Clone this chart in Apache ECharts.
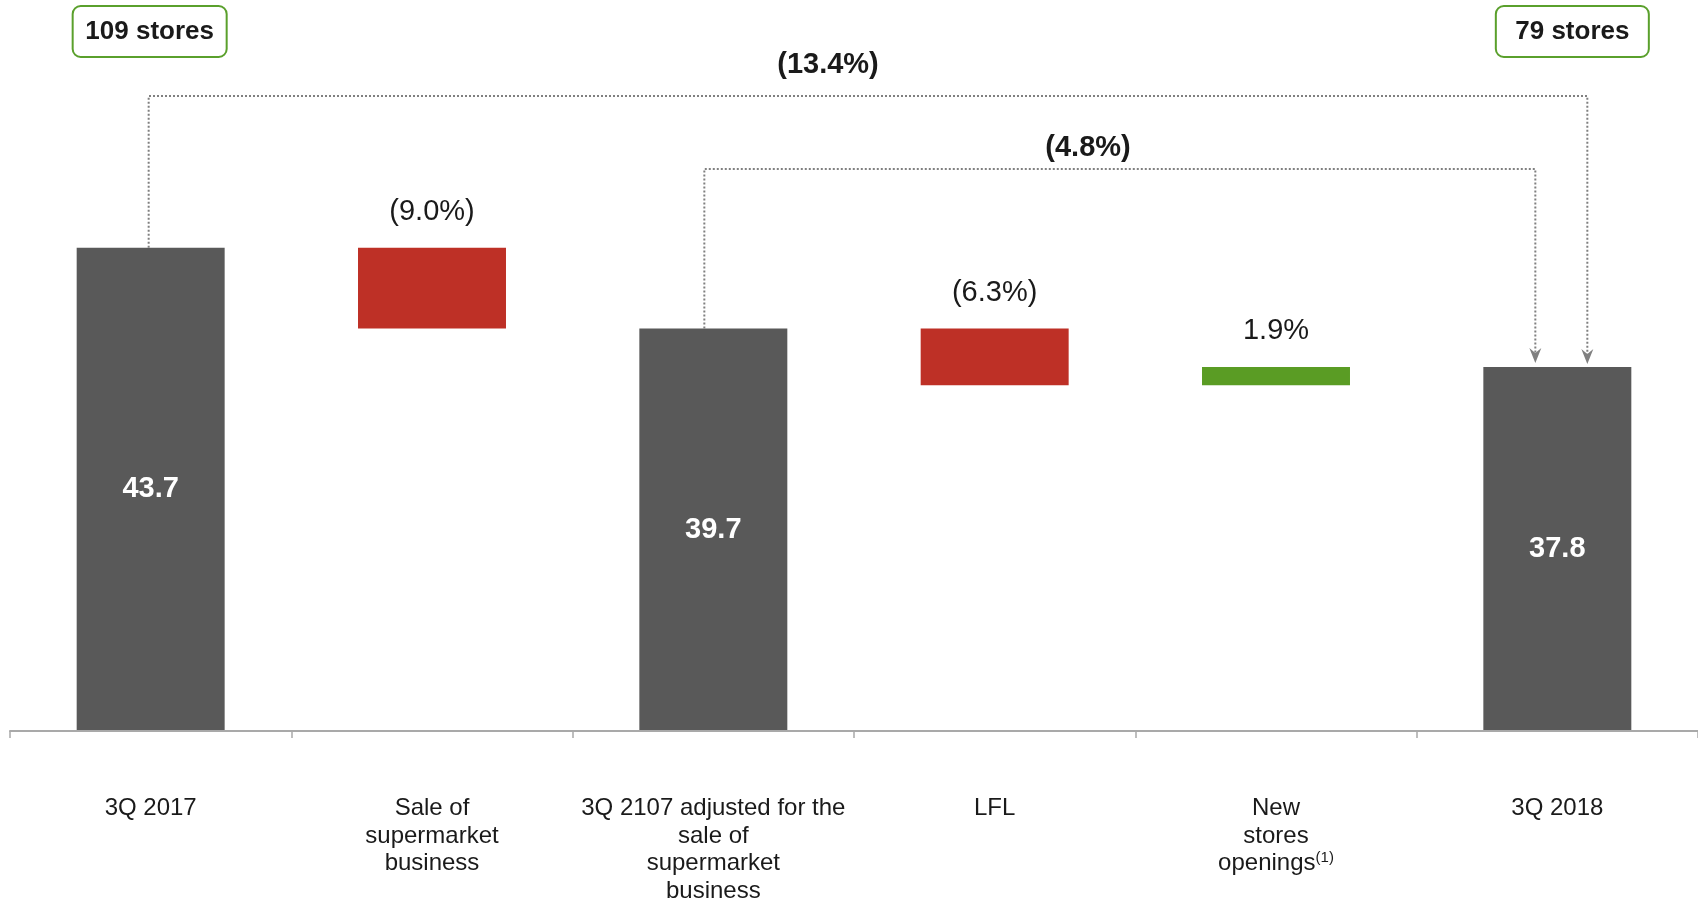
<!DOCTYPE html>
<html>
<head>
<meta charset="utf-8">
<script src="https://cdn.jsdelivr.net/npm/echarts@6/dist/echarts.min.js"></script>
<style>
html,body{margin:0;padding:0;background:#fff;}
#main{width:1698px;height:905px;}
</style>
</head>
<body>
<div id="main"></div>
<script>
// ---- data ----
var categories = ['3Q 2017', 'Sale of\nsupermarket\nbusiness', '3Q 2107 adjusted for the\nsale of\nsupermarket\nbusiness', 'LFL', 'New\nstores\nopenings(1)', '3Q 2018'];
var baseValues = [0, 39.7, 0, 36.9, 36.9, 0];
var totalValues = [43.7, '-', 39.7, '-', '-', 37.8];
var decreaseValues = ['-', 4.0, '-', 2.8, '-', '-'];
var increaseValues = ['-', '-', '-', '-', 0.9, '-'];
var deltaLabels = ['', '(9.0%)', '', '(6.3%)', '1.9%', ''];
var storeLabels = ['109 stores', '79 stores'];
var bracketLabels = ['(13.4%)', '(4.8%)'];

var FONT = '"Liberation Sans", Arial, sans-serif';
var chart = echarts.init(document.getElementById('main'));

function deltaLabelFmt(p) { return deltaLabels[p.dataIndex]; }

chart.setOption({
  animation: false,
  backgroundColor: '#ffffff',
  textStyle: { fontFamily: FONT },
  grid: { left: 10, right: 0, top: 124.3, bottom: 171.7, containLabel: false },
  xAxis: {
    type: 'category',
    data: categories,
    z: 5,
    axisLine: { lineStyle: { color: '#a9a9a9', width: 2 } },
    axisTick: { show: true, length: 7, lineStyle: { color: '#a9a9a9', width: 1.5 } },
    axisLabel: {
      interval: 0,
      margin: 64,
      color: '#1a1a1a',
      fontFamily: FONT,
      fontSize: 24,
      lineHeight: 27.5,
      align: 'center',
      formatter: function (v) { return v.replace('(1)', '{sup|(1)}'); },
      rich: {
        sup: { fontSize: 15, lineHeight: 27.5, verticalAlign: 'top', color: '#1a1a1a', fontFamily: FONT }
      }
    }
  },
  yAxis: {
    type: 'value',
    min: 19.8,
    max: 49.8,
    show: false,
    splitLine: { show: false }
  },
  series: [
    {
      name: 'base', type: 'bar', stack: 'w', data: baseValues, barWidth: '52.6%',
      itemStyle: { color: 'rgba(0,0,0,0)' }, silent: true
    },
    {
      name: 'total', type: 'bar', stack: 'w', data: totalValues, barWidth: '52.6%',
      itemStyle: { color: '#595959' },
      label: { show: true, position: 'inside', color: '#ffffff', fontWeight: 'bold', fontSize: 29, fontFamily: FONT,
        formatter: function (p) { return p.value.toFixed(1); } }
    },
    {
      name: 'decrease', type: 'bar', stack: 'w', data: decreaseValues, barWidth: '52.6%',
      itemStyle: { color: '#be3026' },
      label: { show: true, position: 'top', distance: 21, color: '#1a1a1a', fontSize: 29, fontFamily: FONT, formatter: deltaLabelFmt }
    },
    {
      name: 'increase', type: 'bar', stack: 'w', data: increaseValues, barWidth: '52.6%',
      itemStyle: { color: '#5a9c24' },
      label: { show: true, position: 'top', distance: 21, color: '#1a1a1a', fontSize: 29, fontFamily: FONT, formatter: deltaLabelFmt }
    }
  ]
});

// ---- annotations derived from bar positions ----
function px(i, v) { return chart.convertToPixel({ xAxisIndex: 0, yAxisIndex: 0 }, [i, v]); }
var p1 = px(0, totalValues[0]);
var p3 = px(2, totalValues[2]);
var p6 = px(5, totalValues[5]);

var DOT = { stroke: '#808080', lineWidth: 2, lineDash: [2, 2], fill: null };
var outerX0 = p1[0] - 2, outerX1 = p6[0] + 30, outerTop = 96;
var innerX0 = p3[0] - 9, innerX1 = p6[0] - 22, innerTop = 169;
var tipY = p6[1] - 3;

function arrow(x, y) {
  return { type: 'polygon', shape: { points: [[x, y], [x - 6, y - 15], [x, y - 10], [x + 6, y - 15]] },
    style: { fill: '#808080' }, z: 10 };
}
function storeBox(cx, label) {
  var w = label.length > 9 ? 154 : 153;
  return [
    { type: 'rect', shape: { x: cx - w / 2, y: 6, width: w, height: 51, r: 8 },
      style: { fill: '#ffffff', stroke: '#5aa02c', lineWidth: 2 }, z: 10 },
    { type: 'text', x: cx, y: 32, style: { text: label, textAlign: 'center', textVerticalAlign: 'middle',
      font: 'bold 26px ' + FONT, fill: '#1a1a1a' }, z: 11 }
  ];
}

var graphics = [
  { type: 'polyline', shape: { points: [[outerX0, p1[1]], [outerX0, outerTop], [outerX1, outerTop], [outerX1, tipY - 8]] }, style: DOT, z: 10 },
  { type: 'polyline', shape: { points: [[innerX0, p3[1]], [innerX0, innerTop], [innerX1, innerTop], [innerX1, tipY - 8]] }, style: DOT, z: 10 },
  arrow(outerX1, tipY),
  arrow(innerX1, tipY - 1),
  { type: 'text', x: 828, y: 65, style: { text: bracketLabels[0], textAlign: 'center', textVerticalAlign: 'middle',
    font: 'bold 29px ' + FONT, fill: '#1a1a1a' }, z: 11 },
  { type: 'text', x: 1088, y: 148, style: { text: bracketLabels[1], textAlign: 'center', textVerticalAlign: 'middle',
    font: 'bold 29px ' + FONT, fill: '#1a1a1a' }, z: 11 }
].concat(storeBox(p1[0] - 1, storeLabels[0]), storeBox(p6[0] + 15, storeLabels[1]));

chart.setOption({ graphic: graphics });
</script>
</body>
</html>
